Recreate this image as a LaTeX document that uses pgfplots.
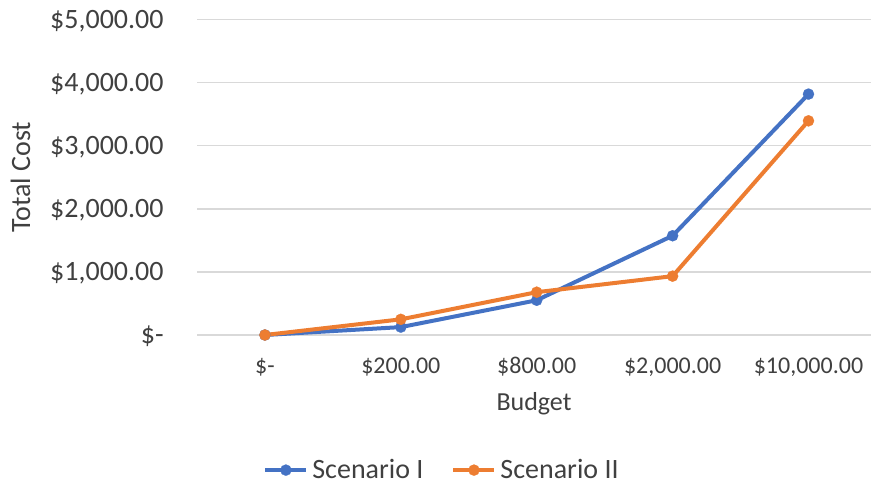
\documentclass[border=0pt]{standalone}
\usepackage{fontspec}
\setmainfont{Carlito}
\usepackage{pgfplots}
\pgfplotsset{compat=1.18}
\definecolor{sblue}{HTML}{4472C4}
\definecolor{sorange}{HTML}{ED7D31}
\definecolor{gridc}{HTML}{D9D9D9}
\definecolor{txt}{HTML}{404040}
\begin{document}
\begin{tikzpicture}
\begin{axis}[
  at={(98.5bp,74.5bp)}, anchor=south west,
  scale only axis, width=337bp, height=157.85bp,
  xmin=-0.5, xmax=4.46, ymin=0, ymax=5000,
  clip=false,
  axis line style={draw=none},
  major tick length=0pt,
  xtick={0,1,2,3,4},
  xticklabels={{\$-\hspace{0.6em}}, {\$200.00}, {\$800.00}, {\$2,000.00}, {\$10,000.00}},
  ytick={0,1000,2000,3000,4000,5000},
  yticklabels={{\$-\hspace{0.45em}}, {\$1,000.00}, {\$2,000.00}, {\$3,000.00}, {\$4,000.00}, {\$5,000.00}},
  /pgf/number format/assume math mode=true,
  ymajorgrids, major grid style={gridc, line width=0.8bp},
  xticklabel style={font=\fontsize{12bp}{14bp}\selectfont, text=txt, anchor=base, inner sep=0pt, yshift=-19bp},
  yticklabel style={font=\fontsize{14bp}{16bp}\selectfont, text=txt, anchor=base east, inner sep=0pt, xshift=-16.5bp, yshift=-4.4bp},
  xlabel={Budget},
  ylabel={Total Cost},
  every axis x label/.style={at={([yshift=-37.5bp]axis description cs:0.5,0)}, anchor=base, font=\fontsize{13bp}{15bp}\selectfont, text=txt},
  every axis y label/.style={at={([xshift=-83.5bp]axis description cs:0,0.5)}, rotate=90, anchor=base, font=\fontsize{14bp}{16bp}\selectfont, text=txt},
  legend columns=-1,
  legend style={at={(0.365,-0.428)}, anchor=center, draw=none, fill=none,
    font=\fontsize{14bp}{16bp}\selectfont, text=txt,
    nodes={inner sep=2bp},
    /tikz/every even column/.append style={column sep=12bp}},
  legend image code/.code={\draw[mark repeat=2,mark phase=2] plot coordinates {(0bp,0bp) (10.25bp,0bp) (20.5bp,0bp)};},
  every axis plot/.append style={line width=2bp, line join=round},
]
\addplot[sblue, mark=*, mark size=2.8bp, mark options={solid, fill=sblue, draw=sblue, line width=0.1bp}] coordinates {
  (0,0) (1,125) (2,550) (3,1572) (4,3815)
};
\addlegendentry{Scenario I}
\addplot[sorange, mark=*, mark size=2.8bp, mark options={solid, fill=sorange, draw=sorange, line width=0.1bp}] coordinates {
  (0,0) (1,248) (2,678) (3,932) (4,3392)
};
\addlegendentry{Scenario II}
\end{axis}
\pgfresetboundingbox
\useasboundingbox (0,0) rectangle (435.5bp,242bp);
\end{tikzpicture}
\end{document}
